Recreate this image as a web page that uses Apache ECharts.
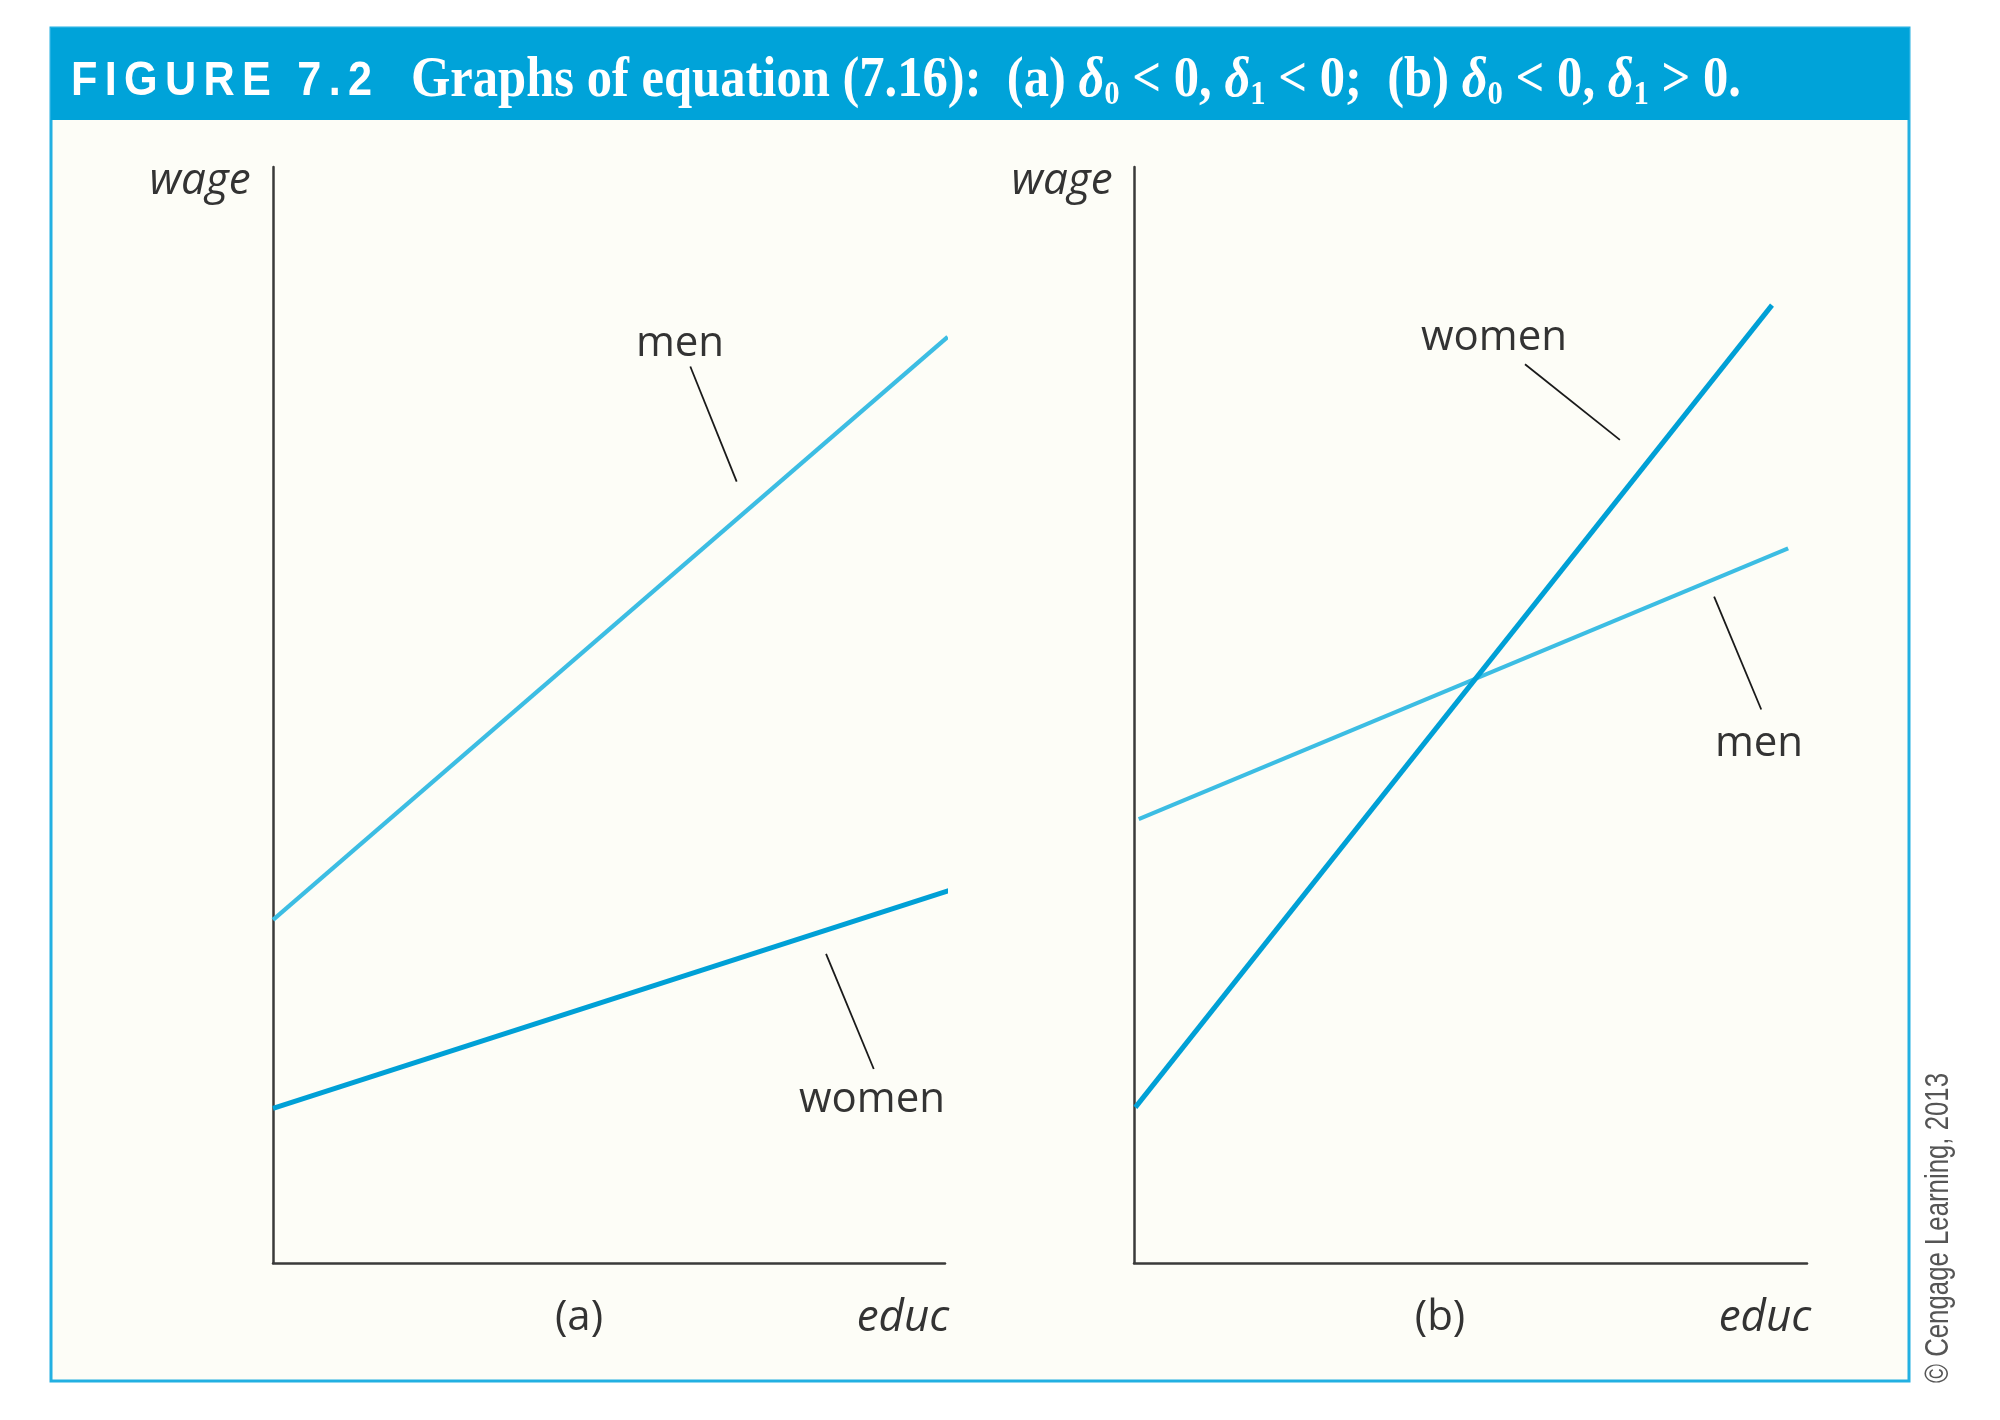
<!DOCTYPE html>
<html><head><meta charset="utf-8">
<script src="https://cdn.jsdelivr.net/npm/echarts@6/dist/echarts.min.js"></script>
<style>html,body{margin:0;padding:0;background:#fff}#c{width:2000px;height:1420px}</style>
</head><body><div id="c"></div>
<script>
// ---- data (axis units 0..10, no scale shown in the original) ----
const menA = [[0, 3.13], [10.04, 8.45]];
const womenA = [[0, 1.41], [10.07, 3.40]];
const menB = [[0.07, 4.05], [9.72, 6.52]];
const womenB = [[0.02, 1.42], [9.48, 8.74]];
const leaderMenA = [[6.21, 8.18], [6.90, 7.13]];
const leaderWomenA = [[8.23, 2.82], [8.94, 1.77]];
const leaderWomenB = [[5.81, 8.20], [7.22, 7.51]];
const leaderMenB = [[8.62, 6.08], [9.32, 5.05]];
const seriesNames = ['men', 'women'];
const yName = 'wage';
const xName = 'educ';
const panelLabels = ['(a)', '(b)'];
const figLabel = 'FIGURE 7.2';
const titleTokens = [['t', 'Graphs of equation (7.16):  (a) '], ['d', 'δ'], ['s', '0'], ['t', ' < 0, '], ['d', 'δ'], ['s', '1'], ['t', ' < 0;  (b) '], ['d', 'δ'], ['s', '0'], ['t', ' < 0, '], ['d', 'δ'], ['s', '1'], ['t', ' > 0.']];
const credit = '© Cengage Learning, 2013';

// ---- styles ----
const MEN_C = '#3cbde3', WOMEN_C = '#00a0d6', AX_C = '#3a3a3a', TXT_C = '#333333';
const LBL_FONT = '"Open Sans", "Noto Sans", sans-serif';

const ctx = document.createElement('canvas').getContext('2d');
function mw(text, font) { ctx.font = font; return ctx.measureText(text).width; }

const richDef = {
  t: { fontFamily: '"Liberation Serif"', fontWeight: 'bold', fontSize: 56, lineHeight: 60, fill: '#ffffff', color: '#ffffff' },
  d: { fontFamily: '"Liberation Serif"', fontWeight: 'bold', fontStyle: 'italic', fontSize: 56, lineHeight: 60, fill: '#ffffff', color: '#ffffff' },
  s: { fontFamily: '"Liberation Serif"', fontWeight: 'bold', fontSize: 34, lineHeight: 34, verticalAlign: 'bottom', fill: '#ffffff', color: '#ffffff' }
};
function fontOf(k) { const r = richDef[k]; return (r.fontStyle === 'italic' ? 'italic ' : '') + 'bold ' + r.fontSize + 'px ' + r.fontFamily; }
let titleW = 0;
titleTokens.forEach(([k, s]) => titleW += mw(s, fontOf(k)));
const titleScale = 1330 / titleW;
const titleRich = titleTokens.map(([k, s]) => '{' + k + '|' + s + '}').join('');

// FIGURE label, letter spaced
const figFont = 'bold 48px "Liberation Sans"';
const figSX = 0.9;
const chars = figLabel.split('');
let cw = chars.map(c => mw(c, figFont) * figSX);
const sumW = cw.reduce((a, b) => a + b, 0);
const gap = (301 - sumW) / (chars.length - 1);
const figEls = [];
let fx = 71;
chars.forEach((c, i) => {
  figEls.push({ type: 'text', x: fx, y: 82, scaleX: figSX, style: { text: c, font: figFont, fill: '#fff', align: 'left', verticalAlign: 'middle' } });
  fx += cw[i] + gap;
});

const creditFont = '33px "Liberation Sans Narrow", "Liberation Sans", sans-serif';
const creditScale = 310 / mw(credit, creditFont);

function lbl(text, x, y, opts) {
  return Object.assign({ type: 'text', x: x, y: y, z: 10, style: { text: text, font: (opts && opts.italic ? 'italic ' : '') + (opts && opts.size || 42) + 'px ' + LBL_FONT, fill: TXT_C, align: (opts && opts.align) || 'center', verticalAlign: 'middle' } });
}

const grids = [
  { left: 273, top: 167, width: 672, height: 1096 },
  { left: 1134, top: 167, width: 673, height: 1096 }
];
const axisCommon = {
  type: 'value', min: 0, max: 10,
  axisLine: { show: true, lineStyle: { color: AX_C, width: 2.5 } },
  axisTick: { show: false }, axisLabel: { show: false }, splitLine: { show: false }
};
function lineSeries(name, data, color, width, g) {
  return { type: 'line', name: name, xAxisIndex: g, yAxisIndex: g, data: data, symbol: 'none', clip: false, silent: true,
    lineStyle: { color: color, width: width, cap: 'butt' }, z: 3 };
}
function leader(data, g) {
  return { type: 'line', xAxisIndex: g, yAxisIndex: g, data: data, symbol: 'none', clip: false, silent: true,
    lineStyle: { color: '#1a1a1a', width: 1.8 }, z: 4 };
}

const option = {
  animation: false,
  backgroundColor: '#ffffff',
  grid: grids,
  xAxis: [Object.assign({ gridIndex: 0 }, axisCommon), Object.assign({ gridIndex: 1 }, axisCommon)],
  yAxis: [Object.assign({ gridIndex: 0 }, axisCommon), Object.assign({ gridIndex: 1 }, axisCommon)],
  series: [
    lineSeries(seriesNames[0], menA, MEN_C, 4.2, 0),
    lineSeries(seriesNames[1], womenA, WOMEN_C, 5, 0),
    lineSeries(seriesNames[0], menB, MEN_C, 4.2, 1),
    lineSeries(seriesNames[1], womenB, WOMEN_C, 5, 1),
    leader(leaderMenA, 0), leader(leaderWomenA, 0), leader(leaderWomenB, 1), leader(leaderMenB, 1)
  ],
  graphic: [
    { type: 'rect', z: -10, shape: { x: 51, y: 28, width: 1858, height: 1353 }, style: { fill: '#fdfdf7', stroke: '#22b0e2', lineWidth: 3 } },
    { type: 'rect', z: -9, shape: { x: 51, y: 28, width: 1858, height: 92 }, style: { fill: '#00a3d9' } },
    { type: 'group', z: 5, children: figEls },
    { type: 'text', z: 5, x: 411, y: 82, scaleX: titleScale, style: { x: 0, y: 0, text: titleRich, rich: richDef, fill: '#ffffff', align: 'left', verticalAlign: 'middle' } },
    lbl(yName, 200, 181, { italic: true, size: 44 }),
    lbl(yName, 1062, 181, { italic: true, size: 44 }),
    lbl(xName, 903, 1318, { italic: true, size: 44 }),
    lbl(xName, 1765, 1318, { italic: true, size: 44 }),
    lbl(panelLabels[0], 579, 1318, { size: 42 }),
    lbl(panelLabels[1], 1440, 1318, { size: 42 }),
    lbl(seriesNames[0], 680, 344),
    lbl(seriesNames[1], 872, 1100),
    lbl(seriesNames[1], 1494, 338),
    lbl(seriesNames[0], 1759, 744),
    { type: 'text', z: 5, x: 1939, y: 1228, rotation: Math.PI / 2, scaleX: creditScale,
      style: { text: credit, font: creditFont, fill: '#555', align: 'center', verticalAlign: 'middle' } }
  ]
};
const chart = echarts.init(document.getElementById('c'), null, { renderer: 'canvas', width: 2000, height: 1420 });
chart.setOption(option);
</script></body></html>
